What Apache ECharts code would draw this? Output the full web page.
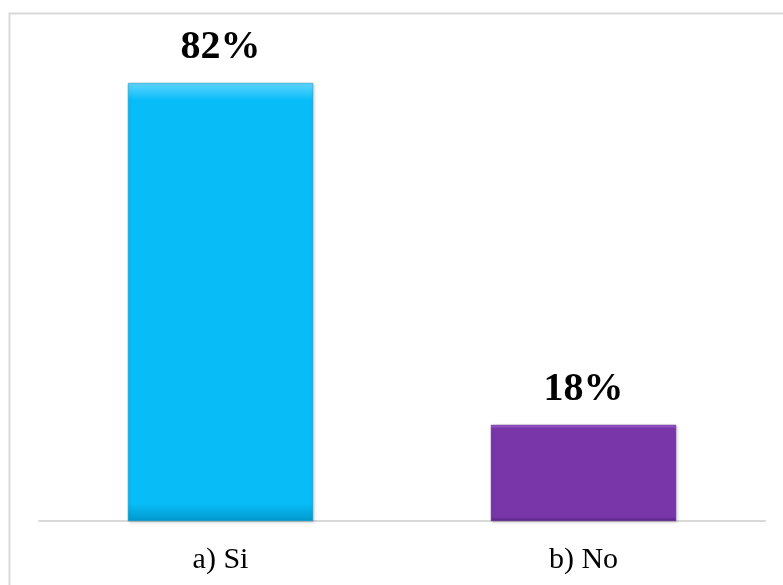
<!DOCTYPE html>
<html>
<head>
<meta charset="utf-8">
<script src="https://cdn.jsdelivr.net/npm/echarts@6/dist/echarts.min.js"></script>
<style>
html,body{margin:0;padding:0;background:#fff;}
#chart{width:783px;height:585px;}
</style>
</head>
<body>
<div id="chart"></div>
<script>
const categories = ['a) Si', 'b) No'];
const values = [82, 18];
const labels = ['82%', '18%'];
const baseColors = ['#07BCF7', '#7836A8'];
const lightColors = ['#5fd6ff', '#a868d8'];
const darkColors = ['#0299cc', '#5a2385'];

const chart = echarts.init(document.getElementById('chart'), null, {renderer: 'canvas'});

function grad(i) {
  return new echarts.graphic.LinearGradient(0, 0, 0, 1, [
    {offset: 0, color: lightColors[i]},
    {offset: 0.04, color: baseColors[i]},
    {offset: 0.96, color: baseColors[i]},
    {offset: 1, color: darkColors[i]}
  ]);
}

chart.setOption({
  animation: false,
  backgroundColor: '#ffffff',
  grid: {left: 39, right: 18, top: 40.3, bottom: 64},
  graphic: [{
    type: 'rect',
    shape: {x: 9.5, y: 13.5, width: 800, height: 600},
    style: {fill: 'none', stroke: '#d9d9d9', lineWidth: 2},
    silent: true,
    z: -10
  }],
  xAxis: {
    type: 'category',
    data: categories,
    axisLine: {show: true, lineStyle: {color: '#d9d9d9', width: 2}},
    axisTick: {show: false},
    axisLabel: {
      color: '#000',
      fontFamily: 'Liberation Serif',
      fontSize: 30,
      margin: 24
    },
    splitLine: {show: false}
  },
  yAxis: {
    type: 'value',
    min: 0,
    max: 90,
    show: false,
    splitLine: {show: false}
  },
  series: [{
    type: 'bar',
    barWidth: '51%',
    data: values.map((v, i) => ({
      value: v,
      itemStyle: {
        color: grad(i),
        borderColor: darkColors[i],
        borderWidth: 0.5,
        shadowColor: 'rgba(0,0,0,0.2)',
        shadowBlur: 3,
        shadowOffsetX: 1,
        shadowOffsetY: 1
      },
      label: {
        show: true,
        position: 'top',
        distance: 15,
        formatter: labels[i],
        color: '#000',
        fontFamily: 'Liberation Serif',
        fontWeight: 'bold',
        fontSize: 40
      }
    }))
  }]
});
</script>
</body>
</html>
